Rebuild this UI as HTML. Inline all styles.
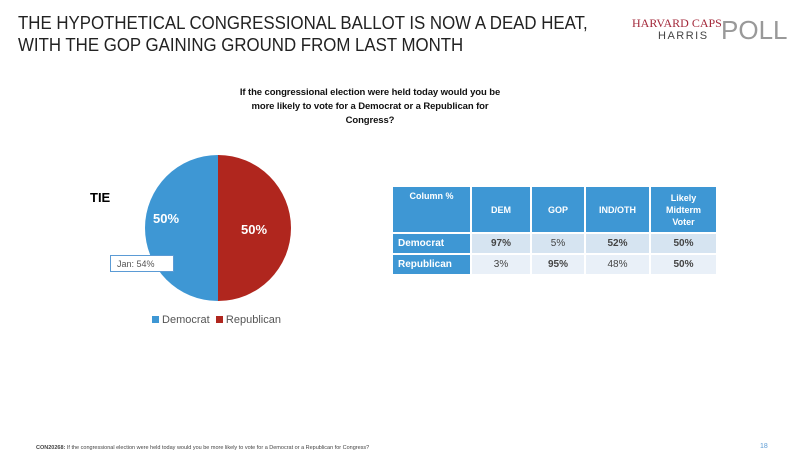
<!DOCTYPE html>
<html><head><meta charset="utf-8"><style>
body{margin:0;width:800px;height:455px;background:#fff;font-family:"Liberation Sans",sans-serif;position:relative;overflow:hidden}
.abs{position:absolute}
table{border-collapse:separate;border-spacing:2px;position:absolute;left:391px;top:185px;font-size:9px}
td{padding:0;text-align:center;font-weight:bold}
.h td{background:#3E97D4;color:#fff;height:41px}
.r1 td{background:#d6e4f1;color:#444;height:19px;font-size:10px}
.r2 td{background:#e9f0f8;color:#444;height:19px;font-size:10px}
td.lab{background:#3E97D4!important;color:#fff!important;text-align:left;padding-left:5px}
.nb{font-weight:normal}
</style></head><body>
<div class="abs" style="left:18px;top:12px;font-size:18.5px;line-height:22px;color:#222;white-space:nowrap;transform:scaleX(0.91);transform-origin:left top">THE HYPOTHETICAL CONGRESSIONAL BALLOT IS NOW A DEAD HEAT,<br>WITH THE GOP GAINING GROUND FROM LAST MONTH</div>
<div class="abs" style="left:630px;top:14px;width:160px;height:30px">
<div class="abs" style="left:2px;top:2px;font-family:'Liberation Serif',serif;font-size:12px;color:#a3283a">HARVARD CAPS</div>
<div class="abs" style="left:28px;top:16px;font-size:11px;letter-spacing:1.5px;color:#444">HARRIS</div>
<div class="abs" style="left:91px;top:1px;font-size:26px;color:#999;line-height:30px">POLL</div></div>
<div class="abs" style="left:228px;top:86px;width:284px;text-align:center;font-size:9.5px;letter-spacing:-0.1px;font-weight:bold;line-height:14px;color:#111">If the congressional election were held today would you be more likely to vote for a Democrat or a Republican for Congress?</div>
<div class="abs" style="left:90px;top:190px;font-size:13px;font-weight:bold">TIE</div>
<svg class="abs" style="left:0;top:0" width="800" height="455" id="pie"></svg>
<div class="abs" style="left:110px;top:255px;width:64px;height:17px;border:1px solid #5b9bd5;background:#fff;font-size:9px;line-height:17px;color:#555;padding-left:6px;box-sizing:border-box">Jan: 54%</div>
<div class="abs" style="left:152px;top:314px;font-size:11px;color:#555">
<span><span style="display:inline-block;width:7px;height:7px;background:#3E97D4"></span> Democrat</span>&nbsp;
<span><span style="display:inline-block;width:7px;height:7px;background:#B0261E"></span> Republican</span></div>
<table>
<tr class="h"><td style="width:77px;vertical-align:top;padding-top:4px">Column %</td><td style="width:58px">DEM</td><td style="width:52px">GOP</td><td style="width:63px">IND/OTH</td><td style="width:65px;line-height:12px">Likely<br>Midterm<br>Voter</td></tr>
<tr class="r1"><td class="lab">Democrat</td><td>97%</td><td class="nb">5%</td><td>52%</td><td>50%</td></tr>
<tr class="r2"><td class="lab">Republican</td><td class="nb">3%</td><td>95%</td><td class="nb">48%</td><td>50%</td></tr>
</table>
<div class="abs" style="left:36px;top:445px;font-size:5.5px;color:#444"><b>CON20268:</b> If the congressional election were held today would you be more likely to vote for a Democrat or a Republican for Congress?</div>
<div class="abs" style="left:760px;top:443px;font-size:7px;color:#5b9bd5">18</div>
<script>
const categories=["Democrat","Republican"];
const values=[50,50];
const labels=["50%","50%"];
const colors=["#3E97D4","#B0261E"];
const svg=document.getElementById('pie');
const cx=218,cy=228,r=73,NS="http://www.w3.org/2000/svg";
const total=values.reduce((a,b)=>a+b,0);
let a0=0;
values.forEach((v,i)=>{
  const a1=a0+v/total*2*Math.PI;
  const p=(a)=>[cx+r*Math.sin(a),cy-r*Math.cos(a)];
  const [x0,y0]=p(a0),[x1,y1]=p(a1);
  const path=document.createElementNS(NS,'path');
  path.setAttribute('d',`M${cx},${cy}L${x0},${y0}A${r},${r} 0 ${a1-a0>Math.PI?1:0} 1 ${x1},${y1}Z`);
  path.setAttribute('fill',colors[(i+1)%2]);
  
  
  svg.appendChild(path);
  a0=a1;
});
const t1=document.createElementNS(NS,'text');
t1.setAttribute('x',166);t1.setAttribute('y',223);t1.setAttribute('fill','#fff');t1.setAttribute('font-size','13');t1.setAttribute('font-weight','bold');t1.setAttribute('text-anchor','middle');
t1.textContent=labels[0];


svg.appendChild(t1);
const t2=document.createElementNS(NS,'text');
t2.setAttribute('x',254);t2.setAttribute('y',234);t2.setAttribute('fill','#fff');t2.setAttribute('font-size','13');t2.setAttribute('font-weight','bold');t2.setAttribute('text-anchor','middle');
t2.textContent=labels[1];


svg.appendChild(t2);
</script>
</body></html>
